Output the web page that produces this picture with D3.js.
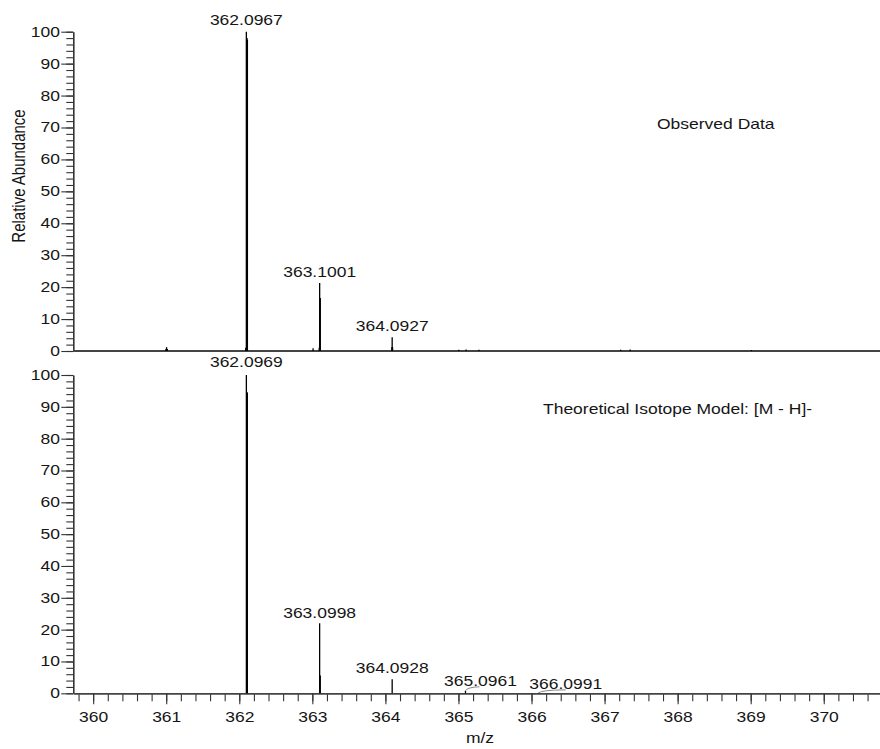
<!DOCTYPE html>
<html>
<head>
<meta charset="utf-8">
<script src="https://cdn.jsdelivr.net/npm/d3@7"></script>
<style>
  html, body { margin: 0; padding: 0; background: #fff; }
  svg { display: block; font-family: "Liberation Sans", Arial, Helvetica, sans-serif; }
</style>
</head>
<body>
<svg id="chart" width="880" height="749"></svg>
<script>
// ---------- data ----------
const xTickLabels = [360, 361, 362, 363, 364, 365, 366, 367, 368, 369, 370];
const yTickLabels = [0, 10, 20, 30, 40, 50, 60, 70, 80, 90, 100];

// Observed spectrum (profile-like sticks)
const observedMz  = [360.995, 361.005, 361.015, 362.088, 362.0967, 362.106, 362.111, 363.010, 363.094, 363.1001, 363.109, 364.088, 364.0927, 364.098, 365.005, 365.105, 365.280, 367.220, 367.350, 369.010];
const observedInt = [0.6, 1.2, 0.6, 1.0, 100, 98, 97.5, 0.9, 1.0, 21.3, 16.6, 1.2, 4.3, 1.2, 0.4, 0.5, 0.4, 0.4, 0.5, 0.3];
const observedLabels = ["362.0967", "363.1001", "364.0927"];
const observedLabelMz = [362.0967, 363.1001, 364.0927];
const observedLabelInt = [100, 21.3, 4.3];

// Theoretical isotope model
const theoryMz  = [362.0969, 362.1055, 362.110, 363.0998, 363.1085, 364.0928, 365.0961, 366.0991];
const theoryInt = [100, 94.5, 94.5, 22.0, 5.6, 4.4, 0.8, 0.15];
const theoryLabels = ["362.0969", "363.0998", "364.0928", "365.0961", "366.0991"];
const theoryLabelMz = [362.0969, 363.0998, 364.0928, 365.0961, 366.0991];
const theoryLabelInt = [100, 22.0, 4.4, 0.8, 0.15];

const panelTitles = ["Observed Data", "Theoretical Isotope Model: [M - H]-"];
const xTitle = "m/z";
const yTitle = "Relative Abundance";

// ---------- layout ----------
const SX = 1.25;            // horizontal text stretch of the original figure
const FONT = 14;
const left = 73.3, right = 880;
const topPanel = {y0: 351, y100: 31.7};
const botPanel = {y0: 693.3, y100: 375};
const textColor = "#151515";
const axisColor = "#333";

const svg = d3.select("#chart");
const x = d3.scaleLinear().domain([359.728, 370.77]).range([left, right]);
const yTop = d3.scaleLinear().domain([0, 100]).range([topPanel.y0, topPanel.y100]);
const yBot = d3.scaleLinear().domain([0, 100]).range([botPanel.y0, botPanel.y100]);

function stretchText(sel) {
  sel.each(function() {
    const t = d3.select(this);
    const xx = +t.attr("x") || 0;
    t.attr("x", xx / SX).attr("transform", `scale(${SX},1)`);
  });
}

function drawYAxis(y) {
  const minor = d3.range(0, 101, 2);
  svg.append("g").attr("transform", `translate(${left},0)`)
    .call(d3.axisLeft(y).tickValues(minor).tickSize(7).tickSizeOuter(0).tickFormat(""))
    .call(g => g.select(".domain").remove())
    .call(g => g.selectAll("line").attr("stroke", axisColor).attr("stroke-width", 1.1));
  const g = svg.append("g").attr("transform", `translate(${left},0)`)
    .call(d3.axisLeft(y).tickValues(yTickLabels).tickSize(12).tickSizeOuter(0).tickPadding(1.3).tickFormat(d3.format("d")));
  g.select(".domain").attr("stroke", axisColor).attr("stroke-width", 1.6);
  g.selectAll(".tick line").attr("stroke", axisColor).attr("stroke-width", 1.1);
  g.selectAll("text").attr("fill", textColor).attr("font-size", FONT)
    .attr("font-family", '"Liberation Sans", Arial, sans-serif').call(stretchText);
}

function drawSticks(mzArr, intArr, y) {
  svg.append("g").selectAll("line").data(mzArr).join("line")
    .attr("x1", d => x(d)).attr("x2", d => x(d))
    .attr("y1", y(0)).attr("y2", (d, i) => y(intArr[i]))
    .attr("stroke", "#000").attr("stroke-width", 1.3);
}

function drawLabels(labels, mzArr, intArr, y, shifts, gaps) {
  const g = svg.append("g");
  labels.forEach((lab, i) => {
    const px = x(mzArr[i]) + (shifts[i] || 0);
    const py = y(intArr[i]) - gaps[i];
    g.append("text")
      .attr("transform", `translate(${px},${py}) scale(${SX},1)`)
      .attr("text-anchor", "middle")
      .attr("font-size", FONT).attr("fill", textColor)
      .text(lab);
  });
}

// ---------- top panel ----------
drawYAxis(yTop);
svg.append("line").attr("x1", left).attr("x2", right)
  .attr("y1", yTop(0)).attr("y2", yTop(0))
  .attr("stroke", "#444").attr("stroke-width", 1.8);
drawSticks(observedMz, observedInt, yTop);
drawLabels(observedLabels, observedLabelMz, observedLabelInt, yTop, [0, 0, 0], [7, 5.5, 6]);

svg.append("text").attr("transform", `translate(657,129) scale(${SX},1)`)
  .attr("font-size", FONT).attr("fill", textColor).text(panelTitles[0]);

// ---------- bottom panel ----------
drawYAxis(yBot);
// x axis with minor + major ticks
const xMinor = d3.range(359.8, 370.61, 0.2).map(v => +v.toFixed(1));
svg.append("g").attr("transform", `translate(0,${botPanel.y0})`)
  .call(d3.axisBottom(x).tickValues(xMinor).tickSize(8).tickSizeOuter(0).tickFormat(""))
  .call(g => g.select(".domain").remove())
  .call(g => g.selectAll("line").attr("stroke", axisColor).attr("stroke-width", 1.1));
const gx = svg.append("g").attr("transform", `translate(0,${botPanel.y0})`)
  .call(d3.axisBottom(x).tickValues(xTickLabels).tickSize(11).tickSizeOuter(0).tickPadding(7.5).tickFormat(d3.format("d")));
gx.select(".domain").attr("stroke", "#444").attr("stroke-width", 1.8);
gx.selectAll(".tick line").attr("stroke", axisColor).attr("stroke-width", 1.1);
gx.selectAll("text").attr("fill", textColor).attr("font-size", FONT)
  .attr("font-family", '"Liberation Sans", Arial, sans-serif').call(stretchText);

drawSticks(theoryMz, theoryInt, yBot);
const thShifts = [0, 0, 0, 15, 27];
const thGaps = [8, 5.5, 6, 5, 4];
drawLabels(theoryLabels, theoryLabelMz, theoryLabelInt, yBot, thShifts, thGaps);

// connectors for shifted labels
[3, 4].forEach(i => {
  const x0 = x(theoryLabelMz[i]), y0 = yBot(theoryLabelInt[i]);
  const x1 = x0 + (i === 3 ? 14 : 27), y1 = y0 - (i === 3 ? 4 : 3);
  const p = d3.path();
  p.moveTo(x0, y0);
  p.quadraticCurveTo(x0 + 2, y0 - (y0 - y1) * 0.9, x1, y1);
  svg.append("path").attr("d", p.toString()).attr("fill", "none")
    .attr("stroke", "#888").attr("stroke-width", 1);
});

svg.append("text").attr("transform", `translate(543,414) scale(${SX},1)`)
  .attr("font-size", FONT).attr("fill", textColor).text(panelTitles[1]);

// ---------- axis titles ----------
svg.append("text").attr("transform", `translate(480,743) scale(${SX},1)`)
  .attr("text-anchor", "middle").attr("font-size", FONT).attr("fill", textColor).text(xTitle);
svg.append("text").attr("transform", `translate(24.5,176) scale(${SX},1) rotate(-90)`)
  .attr("text-anchor", "middle").attr("font-size", 15).attr("fill", textColor).text(yTitle);
</script>
</body>
</html>
